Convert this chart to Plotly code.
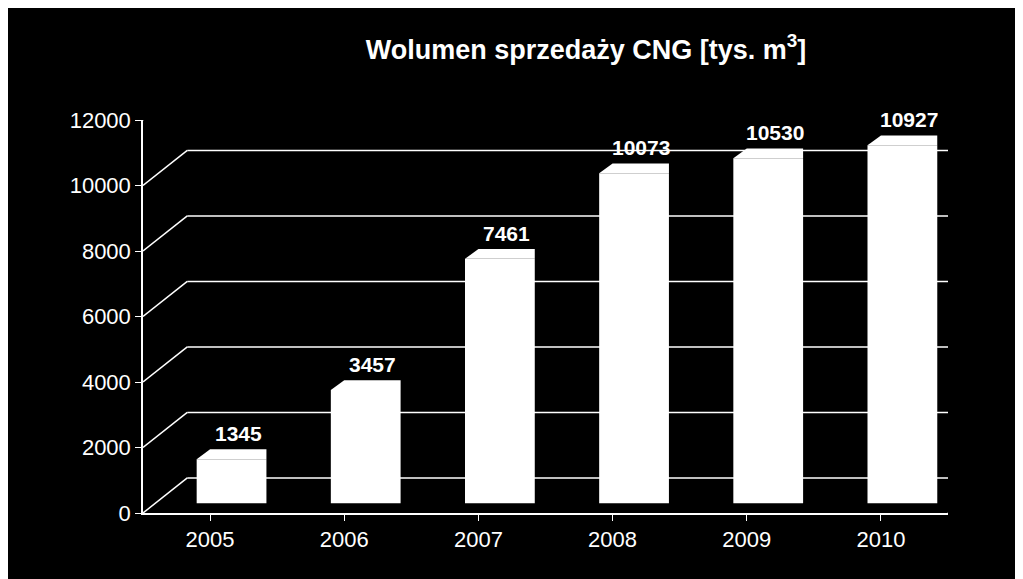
import plotly.graph_objects as go

years = ["2005", "2006", "2007", "2008", "2009", "2010"]
values = [1345, 3457, 7461, 10073, 10530, 10927]
ticks = [0, 2000, 4000, 6000, 8000, 10000, 12000]

xs = list(range(len(years)))
shift = 0.16
dx, dy = 0.33, 1070
w = 0.52
base = 300
cap = 300

fig = go.Figure(go.Bar(
    x=[i + shift for i in xs], y=values, width=w, base=base,
    marker=dict(color="white", line=dict(width=0)),
    showlegend=False,
))

annotations = []
for i, v in zip(xs, values):
    annotations.append(dict(x=i + shift + 0.05, y=v + base + cap, xref="x", yref="y", text=f"<b>{v}</b>",
                            showarrow=False, yanchor="bottom", yshift=2,
                            font=dict(color="white", size=21, family="Liberation Sans")))

shapes = []
L = dict(color="white", width=1.5)
for t in ticks[1:]:
    shapes.append(dict(type="line", xref="x", yref="y", x0=-0.5, y0=t, x1=-0.5 + dx, y1=t + dy, line=L, layer="below"))
    shapes.append(dict(type="line", xref="x", yref="y", x0=-0.5 + dx, y0=t + dy, x1=5.95, y1=t + dy, line=L, layer="below"))
shapes.append(dict(type="line", xref="x", yref="y", x0=-0.5, y0=0, x1=-0.5 + dx, y1=dy, line=L))
shapes.append(dict(type="line", xref="x", yref="y", x0=-0.5 + dx, y0=dy, x1=5.95, y1=dy, line=L))
shapes.append(dict(type="line", xref="x", yref="y", x0=5.5, y0=0, x1=5.5 + dx, y1=dy, line=L))
for i, v in zip(xs, values):
    x0 = i + shift - w / 2
    x1 = i + shift + w / 2
    top = v + base
    shapes.append(dict(type="path", xref="x", yref="y", fillcolor="white", line=dict(width=0),
                       path=f"M{x0},{top} L{x0+0.1},{top+cap} L{x1},{top+cap} L{x1},{top} Z"))

fig.update_layout(
    width=1023, height=579,
    paper_bgcolor="black", plot_bgcolor="black",
    margin=dict(l=135, r=83, t=112, b=74),
    title=dict(text="<b>Wolumen sprzedaży CNG [tys. m<sup>3</sup>]</b>", x=0.565, y=0.945,
               xanchor="center", font=dict(color="white", size=27, family="Liberation Sans")),
    xaxis=dict(tickmode="array", tickvals=xs, ticktext=years, range=[-0.5, 5.5],
               showgrid=False, zeroline=False, showline=True, linecolor="white", linewidth=1.5,
               ticks="outside", tickcolor="white", ticklen=6,
               tickfont=dict(color="white", size=22, family="Liberation Sans")),
    yaxis=dict(tickvals=ticks, tickformat="d", range=[0, 12000], showgrid=False, zeroline=False,
               showline=True, linecolor="white", linewidth=1.5, ticks="outside", tickcolor="white", ticklen=6,
               tickfont=dict(color="white", size=22, family="Liberation Sans")),
    shapes=shapes, annotations=annotations, showlegend=False,
)
fig.write_html("out.html")
